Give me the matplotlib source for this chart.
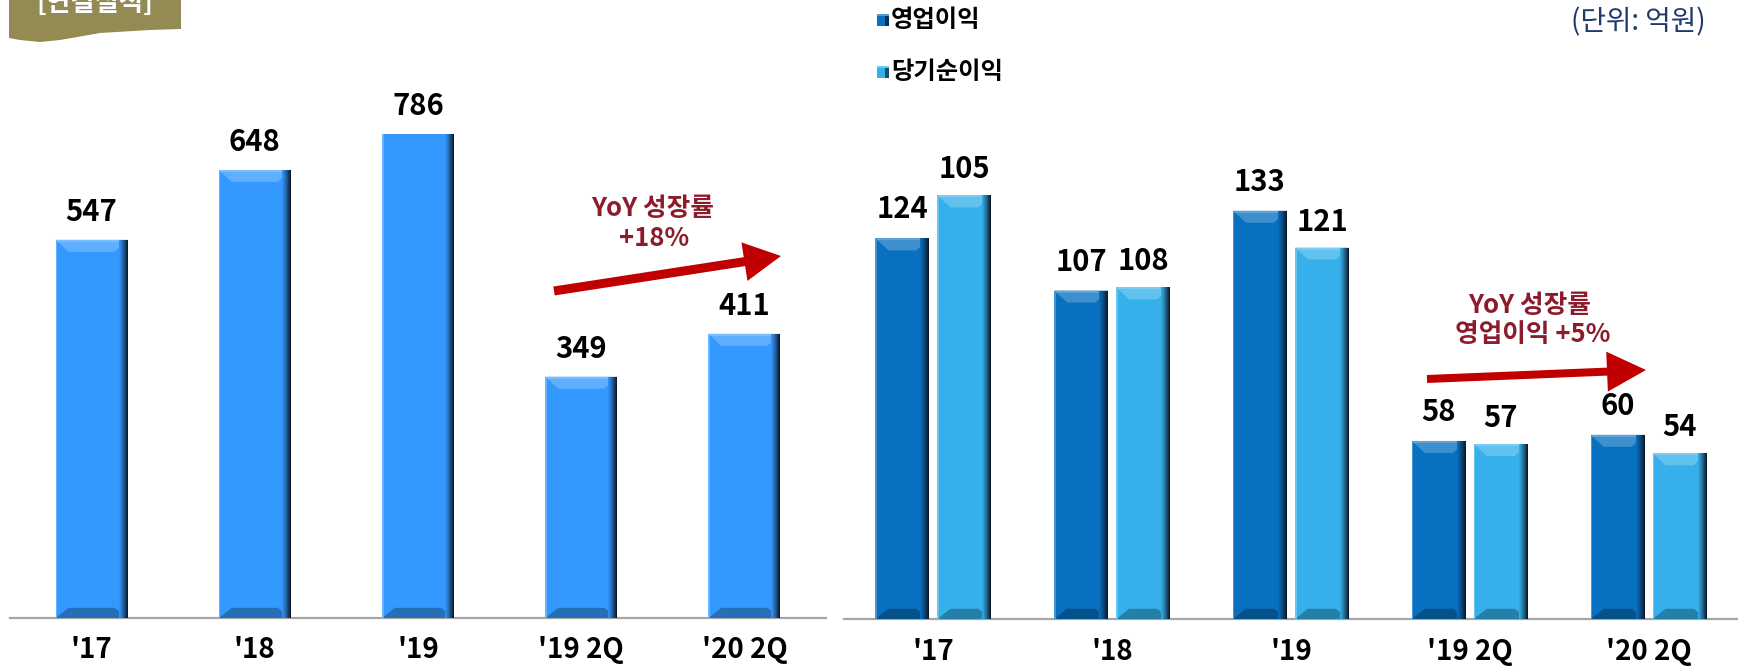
import matplotlib
matplotlib.use('Agg')
import matplotlib.pyplot as plt
from matplotlib.patches import Polygon, Rectangle
import matplotlib.colors as mcolors
import numpy as np

plt.rcParams['font.family'] = ['Noto Sans CJK KR', 'DejaVu Sans']

# ---------------- data ----------------
categories = ["'17", "'18", "'19", "'19 2Q", "'20 2Q"]
revenue = [547, 648, 786, 349, 411]
operating_profit = [124, 107, 133, 58, 60]
net_income = [105, 108, 121, 57, 54]
net_income_drawn = [138, 108, 121, 57, 54]   # bar heights as drawn in the source
series_names = ['영업이익', '당기순이익']
unit_text = '(단위: 억원)'
title_text = '[연결실적]'
left_note = ['YoY 성장률', '+18%']
right_note = ['YoY 성장률', '영업이익 +5%']

# ---------------- style ----------------
C_LEFT = '#3399FF'
C_OP = '#0870C0'
C_NET = '#35B0EA'
C_NOTE = '#8C1C2C'
C_ARROW = '#C00000'
C_AXIS = '#A6A6A6'
VAL_FS = 21
TICK_FS = 20
NOTE_FS = 18.5

W, H = 1738, 666
fig = plt.figure(figsize=(W / 100, H / 100), dpi=100)


def fx(x):
    return x / W


def fy(y):
    return 1 - y / H


def shade(c, f):
    r = np.array(mcolors.to_rgb(c))
    if f < 1:
        return tuple(r * f)
    return tuple(r + (1 - r) * (f - 1))


def bevel(ax, patch, color):
    x0, y0 = patch.get_x(), patch.get_y()
    w, h = patch.get_width(), patch.get_height()
    x1 = x0 + w
    yhi = ax.get_ylim()[1]
    clipped = (y0 + h) > yhi
    top = min(y0 + h, yhi)
    inv = ax.transData.inverted()
    p0 = ax.transData.transform((x0, 0))
    dx = inv.transform(p0 + np.array([1, 0]))[0] - x0
    dy = inv.transform(p0 + np.array([0, 1]))[1]
    bx, by = 13 * dx, 12 * dy
    # bottom bevel
    ax.add_patch(Polygon([(x0, y0), (x1, y0), (x1 - bx, y0 + by * 0.85), (x0 + bx, y0 + by * 0.85)],
                         closed=True, facecolor=shade(color, 0.72), edgecolor='none', zorder=3))
    # top bevel
    if not clipped:
        ax.add_patch(Polygon([(x0, top), (x1, top), (x1 - bx, top - by), (x0 + bx, top - by)],
                             closed=True, facecolor=shade(color, 1.22), edgecolor='none', zorder=3))
        ax.add_patch(Rectangle((x0, top - 2 * dy), w, 2 * dy, facecolor=shade(color, 1.35),
                               edgecolor='none', zorder=3.2))
    # left highlight
    ax.add_patch(Rectangle((x0, y0), 1.5 * dx, top - y0, facecolor=shade(color, 1.25),
                           edgecolor='none', zorder=3.3))
    # right dark gradient
    n = 9
    dark = np.array([0.05, 0.10, 0.17])
    base = np.array(mcolors.to_rgb(color))
    for i in range(n):
        t = (i + 1) / n
        c = base * (1 - t ** 1.3) + dark * t ** 1.3
        ax.add_patch(Rectangle((x1 - (n - i) * dx, y0), dx * 1.05, top - y0,
                               facecolor=tuple(c), edgecolor='none', zorder=3.5))


def style_axis(ax, pad):
    for s in ['top', 'left', 'right']:
        ax.spines[s].set_visible(False)
    ax.spines['bottom'].set_color(C_AXIS)
    ax.spines['bottom'].set_linewidth(1.6)
    ax.set_yticks([])
    ax.tick_params(axis='x', length=0, pad=pad)
    for lab in ax.get_xticklabels():
        lab.set_fontsize(TICK_FS)
        lab.set_fontweight('bold')
    ax.set_facecolor('none')


# ---------------- left chart ----------------
ax1 = fig.add_axes([fx(10), fy(618), (826 - 10) / W, (618 - 134) / H])
ax1.set_xlim(-0.5, 4.5)
ax1.set_ylim(0, 700)
x = np.arange(len(categories))
bars1 = ax1.bar(x, revenue, width=0.441, color=C_LEFT, zorder=2)
ax1.set_xticks(x, categories)
style_axis(ax1, 13)
for b, v in zip(bars1, revenue):
    bevel(ax1, b, C_LEFT)
    ax1.annotate(str(v), xy=(b.get_x() + b.get_width() / 2, min(v, 700)),
                 xytext=(0, 28), textcoords='offset pixels', ha='center', va='center',
                 fontsize=VAL_FS, fontweight='bold', color='black', annotation_clip=False)

# ---------------- right chart ----------------
ax2 = fig.add_axes([fx(844), fy(619), (1738 - 844) / W, (619 - 134) / H])
ax2.set_xlim(-0.5, 4.5)
ax2.set_ylim(0, 158)
off = 0.1734
bw = 0.302
bars_op = ax2.bar(x - off, operating_profit, width=bw, color=C_OP, zorder=2)
bars_net = ax2.bar(x + off, net_income_drawn, width=bw, color=C_NET, zorder=2)
ax2.set_xticks(x, categories)
style_axis(ax2, 14)
for b, lab in zip(bars_op, operating_profit):
    bevel(ax2, b, C_OP)
    ax2.annotate(str(lab), xy=(b.get_x() + b.get_width() / 2, b.get_height()),
                 xytext=(0, 29), textcoords='offset pixels', ha='center', va='center',
                 fontsize=VAL_FS, fontweight='bold', color='black', annotation_clip=False)
for b, lab in zip(bars_net, net_income):
    bevel(ax2, b, C_NET)
    ax2.annotate(str(lab), xy=(b.get_x() + b.get_width() / 2, b.get_height()),
                 xytext=(0, 26), textcoords='offset pixels', ha='center', va='center',
                 fontsize=VAL_FS, fontweight='bold', color='black', annotation_clip=False)

# ---------------- decorations (pixel layout) ----------------
# title tab
tab = [(9, 0), (181, 0), (181, 29), (150, 30), (100, 33), (60, 40), (40, 42), (20, 40), (9, 38)]
fig.add_artist(Polygon([(fx(a), fy(b)) for a, b in tab], closed=True,
                       transform=fig.transFigure, facecolor='#948A54', edgecolor='none'))
fig.text(fx(95), fy(3), title_text, ha='center', va='center', fontsize=19,
         fontweight='bold', color='white')

# legend
for (yc, name, col) in [(20, series_names[0], C_OP), (72, series_names[1], C_NET)]:
    fig.add_artist(Rectangle((fx(877), fy(yc + 6)), 12 / W, 12 / H, transform=fig.transFigure,
                             facecolor=col, edgecolor='none'))
    fig.add_artist(Rectangle((fx(885), fy(yc + 6)), 4 / W, 12 / H, transform=fig.transFigure,
                             facecolor=shade(col, 0.45), edgecolor='none'))
    fig.add_artist(Rectangle((fx(877), fy(yc - 4)), 12 / W, 2 / H, transform=fig.transFigure,
                             facecolor=shade(col, 1.3), edgecolor='none'))
    fig.text(fx(891), fy(yc), name, ha='left', va='center', fontsize=17.5,
             fontweight='bold', color='black')

fig.text(fx(1706), fy(22), unit_text, ha='right', va='center', fontsize=20, color='#1F3A6B')


def arrow(start, tip, shaft, head_w, head_len):
    s = np.array(start, float)
    t = np.array(tip, float)
    d = (t - s) / np.linalg.norm(t - s)
    n = np.array([-d[1], d[0]])
    hb = t - d * head_len
    pts = [s + n * shaft / 2, hb + n * shaft / 2, hb + n * head_w / 2, t,
           hb - n * head_w / 2, hb - n * shaft / 2, s - n * shaft / 2]
    fig.add_artist(Polygon([(fx(p[0]), fy(p[1])) for p in pts], closed=True,
                           transform=fig.transFigure, facecolor=C_ARROW, edgecolor='none'))


arrow((554, 291), (781, 256), 9, 39, 37)
arrow((1427, 379), (1646, 370), 8, 40, 39)

fig.text(fx(653), fy(208), left_note[0], ha='center', va='center', fontsize=NOTE_FS,
         fontweight='bold', color=C_NOTE)
fig.text(fx(654), fy(238), left_note[1], ha='center', va='center', fontsize=NOTE_FS,
         fontweight='bold', color=C_NOTE)
fig.text(fx(1530), fy(305), right_note[0], ha='center', va='center', fontsize=NOTE_FS,
         fontweight='bold', color=C_NOTE)
fig.text(fx(1533), fy(334), right_note[1], ha='center', va='center', fontsize=NOTE_FS,
         fontweight='bold', color=C_NOTE)

fig.savefig('out.png', dpi=100, facecolor='white')
